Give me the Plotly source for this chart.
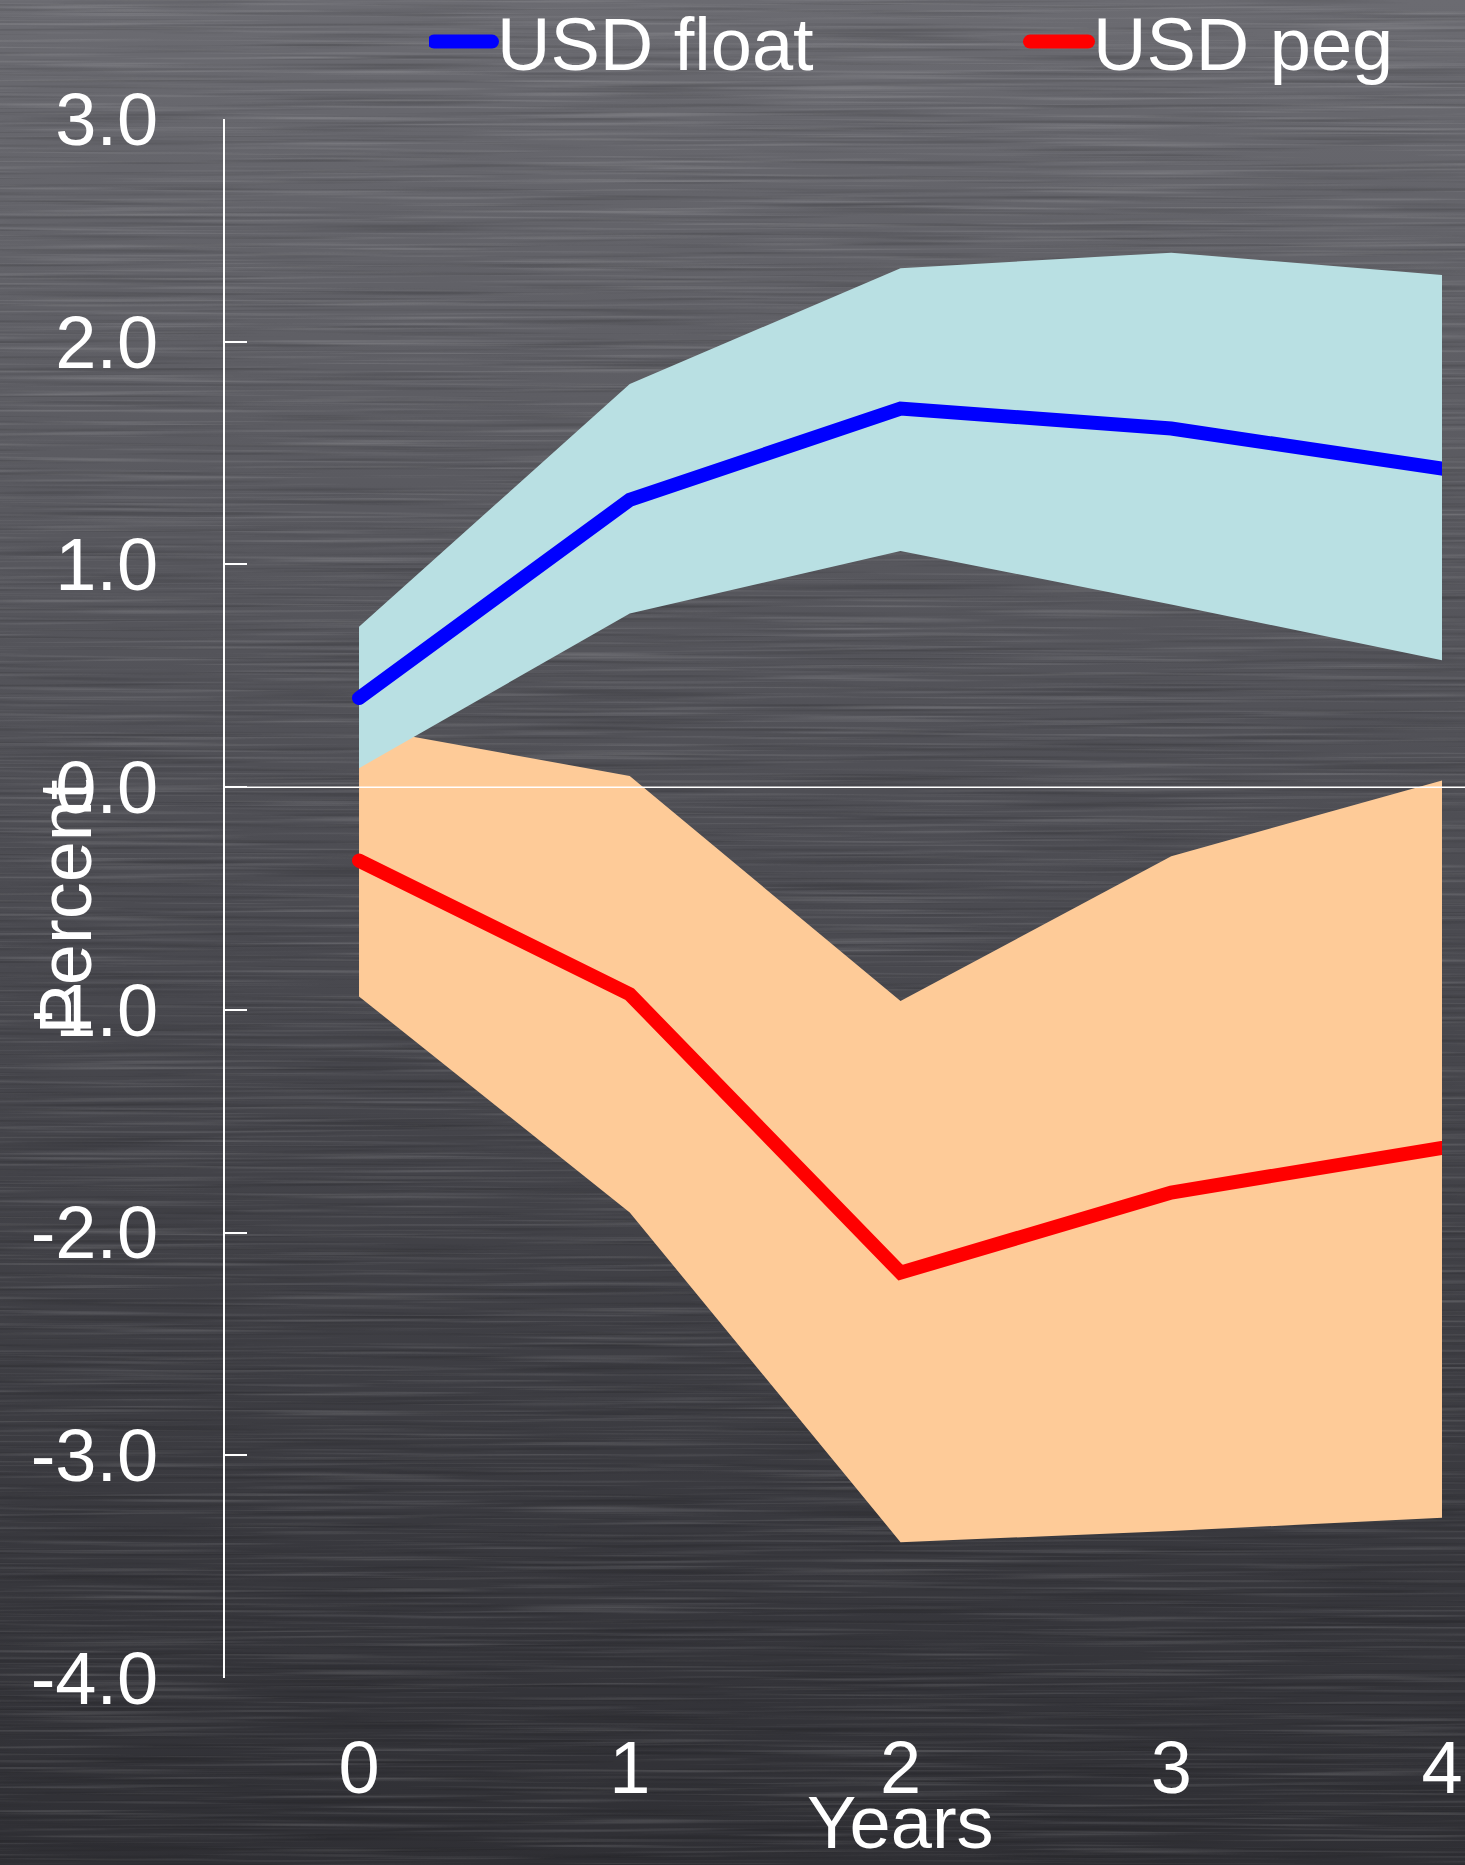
import urllib.parse
import plotly.graph_objects as go

# Horizon (years after the shock)
years = [0, 1, 2, 3, 4]

# USD float: point estimate and confidence band (percent)
float_mid = [0.40, 1.29, 1.70, 1.61, 1.43]
float_hi = [0.72, 1.81, 2.33, 2.40, 2.30]
float_lo = [0.085, 0.78, 1.06, 0.82, 0.57]

# USD peg: point estimate and confidence band (percent)
peg_mid = [-0.33, -0.93, -2.18, -1.82, -1.62]
peg_hi = [0.27, 0.05, -0.96, -0.31, 0.03]
peg_lo = [-0.94, -1.91, -3.39, -3.34, -3.28]

y_ticks = [-4, -3, -2, -1, 0, 1, 2, 3]
y_labels = ["-4.0", "-3.0", "-2.0", "-1.0", "0.0", "1.0", "2.0", "3.0"]

W, H = 1465, 1865
M_L, M_R, M_T, M_B = 225, 23, 119, 187
FONT = "Liberation Sans, Arial, sans-serif"
FS = 74
LINE_W = 14

BLUE_BAND = "#b9e0e3"
PEACH_BAND = "#fecb98"


def band(x, hi, lo, color):
    return go.Scatter(
        x=list(x) + list(x)[::-1],
        y=list(hi) + list(lo)[::-1],
        fill="toself",
        fillcolor=color,
        line=dict(width=0),
        mode="lines",
        hoverinfo="skip",
        showlegend=False,
    )


fig = go.Figure()
fig.add_trace(band(years, peg_hi, peg_lo, PEACH_BAND))
fig.add_trace(band(years, float_hi, float_lo, BLUE_BAND))
fig.add_trace(go.Scatter(x=years, y=float_mid, mode="lines", name="USD float",
                         line=dict(color="#0000ff", width=LINE_W)))
fig.add_trace(go.Scatter(x=years, y=peg_mid, mode="lines", name="USD peg",
                         line=dict(color="#ff0000", width=LINE_W)))

# brushed dark-metal backdrop: vertical gradient plus faint horizontal streaks
svg = (
    f"<svg xmlns='http://www.w3.org/2000/svg' width='{W}' height='{H}' "
    f"viewBox='0 0 {W} {H}' preserveAspectRatio='none'>"
    "<defs>"
    "<linearGradient id='g' x1='0' y1='0' x2='0' y2='1'>"
    "<stop offset='0' stop-color='#6b6b71'/>"
    "<stop offset='0.5' stop-color='#4a4a50'/>"
    "<stop offset='1' stop-color='#2f2f34'/>"
    "</linearGradient>"
    "<filter id='light' x='0' y='0' width='100%' height='100%'>"
    "<feTurbulence type='fractalNoise' baseFrequency='0.004 0.3' numOctaves='2' seed='7'/>"
    "<feColorMatrix type='matrix' values='0 0 0 0 1 0 0 0 0 1 0 0 0 0 1 3 0 0 0 -1.5'/>"
    "</filter>"
    "<filter id='dark' x='0' y='0' width='100%' height='100%'>"
    "<feTurbulence type='fractalNoise' baseFrequency='0.004 0.25' numOctaves='2' seed='19'/>"
    "<feColorMatrix type='matrix' values='0 0 0 0 0 0 0 0 0 0 0 0 0 0 0 -3 0 0 0 1.5'/>"
    "</filter>"
    "</defs>"
    "<rect width='100%' height='100%' fill='url(#g)'/>"
    "<rect width='100%' height='100%' filter='url(#light)' opacity='0.13'/>"
    "<rect width='100%' height='100%' filter='url(#dark)' opacity='0.15'/>"
    "</svg>"
)
bg_src = "data:image/svg+xml;charset=utf-8," + urllib.parse.quote(svg)

pw = W - M_L - M_R
ph = H - M_T - M_B

fig.add_layout_image(
    source=bg_src,
    xref="paper", yref="paper",
    x=-M_L / pw, y=1 + M_T / ph,
    sizex=W / pw, sizey=H / ph,
    xanchor="left", yanchor="top",
    sizing="stretch", layer="below",
)

# zero reference line running to the right edge of the figure
fig.add_shape(type="line", xref="paper", yref="y",
              x0=0, x1=1 + M_R / pw, y0=0, y1=0,
              line=dict(color="white", width=1.5), layer="above")

# axis titles
fig.add_annotation(text="Percent", xref="paper", yref="paper",
                   x=(65 - M_L) / pw, y=0.5 - 9 / ph, textangle=-90,
                   showarrow=False, xanchor="center", yanchor="middle",
                   font=dict(size=FS, color="white", family=FONT))
fig.add_annotation(text="Years", xref="x", yref="paper",
                   x=years[2], y=-(1822 - (H - M_B)) / ph,
                   showarrow=False, xanchor="center", yanchor="middle",
                   font=dict(size=FS, color="white", family=FONT))

fig.update_layout(
    width=W, height=H,
    margin=dict(l=M_L, r=M_R, t=M_T, b=M_B, autoexpand=False),
    paper_bgcolor="rgba(0,0,0,0)",
    plot_bgcolor="rgba(0,0,0,0)",
    font=dict(family=FONT, size=FS, color="white"),
    showlegend=True,
    legend=dict(
        orientation="h",
        x=(434 - M_L - 5) / pw, xanchor="left",
        y=1 + (M_T - 42) / ph, yanchor="middle",
        bgcolor="rgba(0,0,0,0)",
        font=dict(size=FS, color="white", family=FONT),
        itemwidth=58,
        entrywidth=523,
        tracegroupgap=0,
    ),
    xaxis=dict(
        range=[-0.495, 4],
        tickmode="array", tickvals=years, ticktext=[str(v) for v in years],
        showgrid=False, zeroline=False, showline=False, ticks="",
        ticklabelstandoff=40,
        tickfont=dict(size=FS, color="white"),
        fixedrange=True,
    ),
    yaxis=dict(
        range=[-4, 3],
        tickmode="array", tickvals=y_ticks, ticktext=y_labels,
        showgrid=False, zeroline=False,
        showline=True, linecolor="white", linewidth=2,
        ticks="inside", ticklen=22, tickwidth=2, tickcolor="white",
        ticklabelstandoff=50,
        tickfont=dict(size=FS, color="white"),
        fixedrange=True,
    ),
)

# round line ends, and legend keys as thick as the plotted lines
post = (
    "document.querySelectorAll('.scatterlayer .js-line')"
    ".forEach(function(p){p.style.strokeLinecap='round';});"
    "document.querySelectorAll('.legendlines path')"
    ".forEach(function(p){p.style.strokeLinecap='round';"
    "p.style.strokeWidth='" + str(LINE_W) + "px';});"
)
fig.write_html("out.html", post_script=post)
